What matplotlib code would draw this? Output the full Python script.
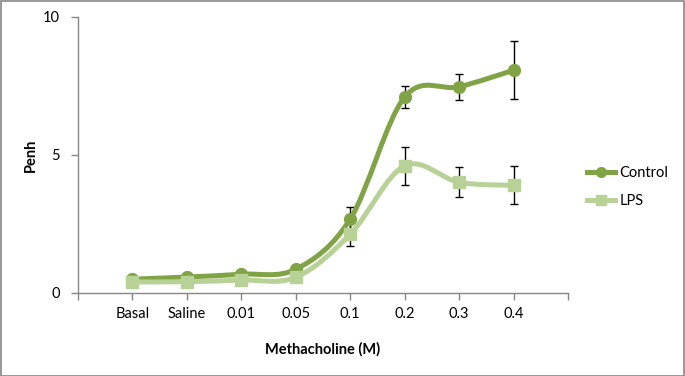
import numpy as np
import matplotlib
matplotlib.use("Agg")
import matplotlib.pyplot as plt
from matplotlib.path import Path
from matplotlib.patches import PathPatch, Rectangle
from matplotlib.lines import Line2D

plt.rcParams["font.family"] = ["Lato", "DejaVu Sans"]

# --- data ---------------------------------------------------------------
doses = ["Basal", "Saline", "0.01", "0.05", "0.1", "0.2", "0.3", "0.4"]
control = [0.50, 0.58, 0.68, 0.86, 2.68, 7.10, 7.47, 8.07]
control_err = [0.05, 0.05, 0.08, 0.10, 0.42, 0.40, 0.48, 1.05]
lps = [0.40, 0.41, 0.47, 0.57, 2.13, 4.61, 4.01, 3.90]
lps_err = [0.05, 0.05, 0.06, 0.08, 0.43, 0.69, 0.54, 0.69]
y_ticks = [0, 5, 10]

c_ctrl = "#80a345"
c_lps = "#b8d196"


def smooth_path(x, y):
    # Excel-style smoothed line: cubic Bezier through every point
    pts = np.column_stack([x, y])
    verts = [pts[0]]
    codes = [Path.MOVETO]
    n = len(pts)
    for i in range(n - 1):
        p0 = pts[i - 1] if i > 0 else pts[i]
        p1, p2 = pts[i], pts[i + 1]
        p3 = pts[i + 2] if i + 2 < n else pts[i + 1]
        verts += [p1 + (p2 - p0) / 6, p2 - (p3 - p1) / 6, p2]
        codes += [Path.CURVE4] * 3
    return Path(verts, codes)


def main():
    fig = plt.figure(figsize=(6.85, 3.76), dpi=100)
    ax = fig.add_axes([78 / 685, 1 - 293 / 376, 490 / 685, 276 / 376])
    x = np.arange(1, len(doses) + 1)

    for vals, err, col, mk, lab in [(control, control_err, c_ctrl, "o", "Control"),
                                    (lps, lps_err, c_lps, "s", "LPS")]:
        ax.errorbar(x, vals, yerr=err, fmt="none", ecolor="black", elinewidth=1,
                    capsize=3, capthick=1, zorder=2)
        ax.add_patch(PathPatch(smooth_path(x, vals), facecolor="none", edgecolor=col,
                               lw=3.6, capstyle="round", joinstyle="round", zorder=3))
        ax.plot(x, vals, ls="none", marker=mk, ms=8.5, color=col, zorder=4, label=lab)

    ax.set_xlim(0, 9)
    ax.set_ylim(0, 10)
    ax.set_xticks(range(0, 10))
    ax.set_xticklabels([""] + doses + [""])
    ax.set_yticks(y_ticks)
    ax.tick_params(axis="x", length=5, width=1, color="#868686", pad=5, labelsize=10.5)
    ax.tick_params(axis="y", length=5, width=1, color="#868686", pad=8, labelsize=10.5)
    for s in ["top", "right"]:
        ax.spines[s].set_visible(False)
    for s in ["left", "bottom"]:
        ax.spines[s].set_color("#868686")
        ax.spines[s].set_linewidth(1)

    ax.set_ylabel("Penh", fontweight="bold", fontsize=10.5, labelpad=4)
    ax.set_xlabel("Methacholine (M)", fontweight="bold", fontsize=10.5, labelpad=15)

    handles = [Line2D([], [], color=c_ctrl, lw=3.6, marker="o", ms=7),
               Line2D([], [], color=c_lps, lw=3.6, marker="s", ms=7)]
    fig.legend(handles, ["Control", "LPS"], loc="center left",
               bbox_to_anchor=(574 / 685, 1 - 187 / 376), frameon=False,
               fontsize=10.5, handlelength=1.9, handletextpad=0.3, labelspacing=1.0)

    fig.patches.append(Rectangle((0.5 / 685, 0.5 / 376), 683.5 / 685, 374.5 / 376,
                                 transform=fig.transFigure, fill=False,
                                 edgecolor="#868686", lw=1.2))
    fig.savefig("out.png", dpi=100)
    plt.close(fig)


if __name__ == "__main__":
    main()
